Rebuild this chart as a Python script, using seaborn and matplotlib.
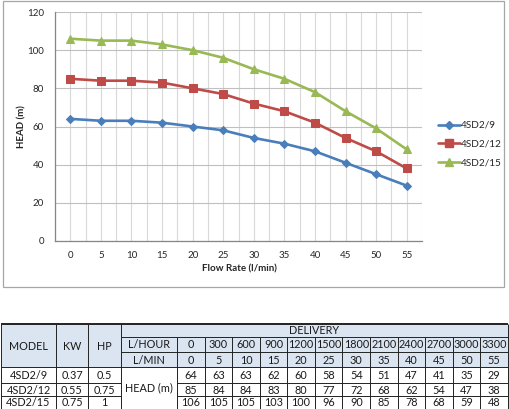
import matplotlib
matplotlib.use("Agg")
import matplotlib.pyplot as plt
import seaborn as sns
import pandas as pd
import numpy as np
from matplotlib.patches import Rectangle
from matplotlib.lines import Line2D

# ---------------- data ----------------
models = ["4SD2/9", "4SD2/12", "4SD2/15"]
kw = ["0.37", "0.55", "0.75"]
hp = ["0.5", "0.75", "1"]
flow_lmin = [0, 5, 10, 15, 20, 25, 30, 35, 40, 45, 50, 55]
flow_lhour = [0, 300, 600, 900, 1200, 1500, 1800, 2100, 2400, 2700, 3000, 3300]
head_9 = [64, 63, 63, 62, 60, 58, 54, 51, 47, 41, 35, 29]
head_12 = [85, 84, 84, 83, 80, 77, 72, 68, 62, 54, 47, 38]
head_15 = [106, 105, 105, 103, 100, 96, 90, 85, 78, 68, 59, 48]
y_ticks = [0, 20, 40, 60, 80, 100, 120]

heads = [head_9, head_12, head_15]
df = pd.DataFrame({
    "flow": flow_lmin * 3,
    "head": head_9 + head_12 + head_15,
    "model": [m for m in models for _ in flow_lmin],
})

colors = ["#4a7ebb", "#be4b48", "#98b954"]
markers = ["D", "s", "^"]
msizes = [4.2, 5.6, 6.3]

sns.set_theme(style="white")
plt.rcParams["font.family"] = ["Lato", "DejaVu Sans"]

W, H = 509, 409
fig = plt.figure(figsize=(W / 100, H / 100), dpi=100)
fig.patch.set_facecolor("white")


def px(x0, y0, x1, y1):
    return [x0 / W, 1 - y1 / H, (x1 - x0) / W, (y1 - y0) / H]


# background axes in pixel coordinates (chart frame + table)
tax = fig.add_axes([0, 0, 1, 1])
tax.set_xlim(0, W)
tax.set_ylim(H, 0)
tax.axis("off")
tax.patch.set_alpha(0)

# chart frame
tax.add_patch(Rectangle((3, 1), 501, 286, fill=False, edgecolor="#a6a6a6", lw=0.9))

# ---------------- chart ----------------
ax = fig.add_axes(px(55, 12, 422, 241))
ax.patch.set_alpha(0)
sns.lineplot(data=df, x="flow", y="head", hue="model", style="model",
             palette=colors, markers=markers, dashes=False, linewidth=1.9,
             ax=ax, legend=False)
for line, ms, c in zip(ax.get_lines(), msizes, colors):
    line.set_markersize(ms)
    line.set_markeredgecolor(c)
    line.set_markerfacecolor(c)

ax.set_xlim(-2.5, 57.5)
ax.set_ylim(0, 120)
ax.set_xticks(flow_lmin)
ax.set_xticks(np.arange(-2.5, 58, 5), minor=True)
ax.set_yticks(y_ticks)
ax.grid(True, which="both", axis="x", color="#d9d9d9", lw=0.8)
ax.grid(True, which="major", axis="y", color="#c0c0c0", lw=0.8)
ax.set_axisbelow(True)
for s in ["top", "right"]:
    ax.spines[s].set_visible(False)
for s in ["left", "bottom"]:
    ax.spines[s].set_color("#868686")
    ax.spines[s].set_linewidth(0.9)
ax.tick_params(axis="x", which="major", length=0, pad=7, labelsize=7, colors="#262626")
ax.tick_params(axis="x", which="minor", length=3, direction="out", color="#868686", width=0.8)
ax.tick_params(axis="y", which="major", length=3, direction="out", color="#868686",
               width=0.8, pad=5, labelsize=7, colors="#262626")
ax.tick_params(axis="x", which="major", labelcolor="#262626")
ax.tick_params(axis="y", labelcolor="#262626")
ax.set_xlabel("")
ax.set_ylabel("")

fig.text(239 / W, 1 - 269 / H, "Flow Rate (l/min)", ha="center", va="center",
         fontsize=7, fontweight="bold", color="#262626")
fig.text(22 / W, 1 - 127 / H, "HEAD (m)", ha="center", va="center", rotation=90,
         fontsize=7, fontweight="bold", color="#262626")

# legend
handles = [Line2D([0], [0], color=c, lw=1.9, marker=m, markersize=ms,
                  markerfacecolor=c, markeredgecolor=c)
           for c, m, ms in zip(colors, markers, msizes)]
fig.legend(handles, models, loc="center left", bbox_to_anchor=(434 / W, 1 - 144 / H),
           frameon=False, fontsize=7.2, handlelength=2.2, handletextpad=0.1,
           labelspacing=0.95, borderaxespad=0)

# ---------------- table ----------------
row_y = [324, 337, 352, 367, 383, 396, 408.5]
col_x = [1, 56, 88, 121, 177] + list(np.linspace(177, 508, 13)[1:])
fs = 7.8
tc = "#1a1a1a"
hdr = "#dbe5f1"

# header background
tax.add_patch(Rectangle((col_x[0], row_y[0]), col_x[-1] - col_x[0], row_y[3] - row_y[0],
                        facecolor=hdr, edgecolor="none"))

lw = 0.7
ec = "#222222"


def hline(y, x0, x1, w=lw):
    tax.plot([x0, x1], [y, y], color=ec, lw=w, solid_capstyle="butt")


def vline(x, y0, y1, w=lw):
    tax.plot([x, x], [y0, y1], color=ec, lw=w, solid_capstyle="butt")


# outer border
hline(row_y[0], col_x[0], col_x[-1], 1.4)
hline(row_y[-1], col_x[0], col_x[-1])
vline(col_x[0], row_y[0], row_y[-1])
vline(col_x[-1], row_y[0], row_y[-1])
# horizontal lines
hline(row_y[1], col_x[3], col_x[-1])
hline(row_y[2], col_x[3], col_x[-1])
hline(row_y[3], col_x[0], col_x[-1])
hline(row_y[4], col_x[0], col_x[3])
hline(row_y[4], col_x[4], col_x[-1])
hline(row_y[5], col_x[0], col_x[3])
hline(row_y[5], col_x[4], col_x[-1])
# vertical lines
for i in [1, 2, 3]:
    vline(col_x[i], row_y[0], row_y[-1])
for x in col_x[4:-1]:
    vline(x, row_y[1], row_y[-1])


def cell(text, x0, x1, y0, y1):
    tax.text((x0 + x1) / 2, (y0 + y1) / 2 + 0.5, text, ha="center", va="center",
             fontsize=fs, color=tc)


cell("MODEL", col_x[0], col_x[1], row_y[0], row_y[3])
cell("KW", col_x[1], col_x[2], row_y[0], row_y[3])
cell("HP", col_x[2], col_x[3], row_y[0], row_y[3])
cell("DELIVERY", col_x[3], col_x[-1], row_y[0], row_y[1])
cell("L/HOUR", col_x[3], col_x[4], row_y[1], row_y[2])
cell("L/MIN", col_x[3], col_x[4], row_y[2], row_y[3])
cell("HEAD (m)", col_x[3], col_x[4], row_y[3], row_y[6])
for j in range(12):
    cell(str(flow_lhour[j]), col_x[4 + j], col_x[5 + j], row_y[1], row_y[2])
    cell(str(flow_lmin[j]), col_x[4 + j], col_x[5 + j], row_y[2], row_y[3])
for i in range(3):
    cell(models[i], col_x[0], col_x[1], row_y[3 + i], row_y[4 + i])
    cell(kw[i], col_x[1], col_x[2], row_y[3 + i], row_y[4 + i])
    cell(hp[i], col_x[2], col_x[3], row_y[3 + i], row_y[4 + i])
    for j in range(12):
        cell(str(heads[i][j]), col_x[4 + j], col_x[5 + j], row_y[3 + i], row_y[4 + i])

fig.savefig("out.png", dpi=100)
